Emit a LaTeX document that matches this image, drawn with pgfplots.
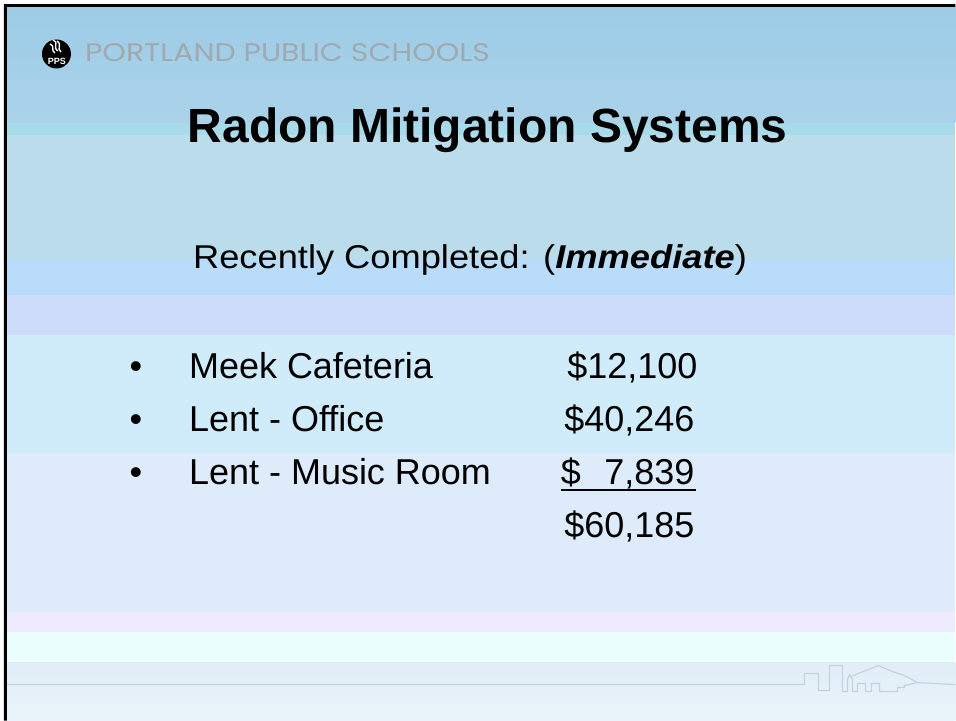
\documentclass[border=0pt]{standalone}
\usepackage{pgfplots}
\pgfplotsset{compat=1.18}
\usepackage{fontspec}
\setmainfont{Liberation Sans}
\newfontfamily\hdrfont{Poppins}
\definecolor{gTop}{HTML}{9DCBE6}
\definecolor{gBot}{HTML}{AAD3E9}
\definecolor{bandA}{HTML}{A7DBEA}
\definecolor{bandB}{HTML}{BBDCEA}
\definecolor{bandC}{HTML}{B9DCFB}
\definecolor{bandD}{HTML}{CDDCFB}
\definecolor{bandE}{HTML}{D0ECFB}
\definecolor{bandF}{HTML}{DDEBFB}
\definecolor{bandG}{HTML}{EEEBFD}
\definecolor{bandH}{HTML}{EAFEFE}
\definecolor{bandI}{HTML}{E1EEF7}
\definecolor{bandJ}{HTML}{EAF4FA}
\definecolor{hdrgray}{HTML}{A0A9B0}
\definecolor{icongray}{HTML}{C3D3DD}
\begin{document}
\begin{tikzpicture}
\begin{axis}[scale only axis, width=956pt, height=721pt,
  xmin=0, xmax=956, ymin=0, ymax=721, y dir=reverse,
  axis lines=none, ticks=none, clip=false]
% background
\addplot[fill=white, draw=none] coordinates {(0,0)(956,0)(956,721)(0,721)} -- cycle;
\addplot[draw=none, top color=gTop, bottom color=gBot] coordinates {(7,7)(956,7)(956,123)(7,123)} -- cycle;
\addplot[fill=bandA, draw=none] coordinates {(7,123)(956,123)(956,135)(7,135)} -- cycle;
\addplot[fill=bandB, draw=none] coordinates {(7,135)(956,135)(956,260)(7,260)} -- cycle;
\addplot[fill=bandC, draw=none] coordinates {(7,260)(956,260)(956,295)(7,295)} -- cycle;
\addplot[fill=bandD, draw=none] coordinates {(7,295)(956,295)(956,335)(7,335)} -- cycle;
\addplot[fill=bandE, draw=none] coordinates {(7,335)(956,335)(956,453)(7,453)} -- cycle;
\addplot[fill=bandF, draw=none] coordinates {(7,453)(956,453)(956,612)(7,612)} -- cycle;
\addplot[fill=bandG, draw=none] coordinates {(7,612)(956,612)(956,632)(7,632)} -- cycle;
\addplot[fill=bandH, draw=none] coordinates {(7,632)(956,632)(956,663)(7,663)} -- cycle;
\addplot[draw=none, top color=bandI, bottom color=bandJ] coordinates {(7,663)(956,663)(956,721)(7,721)} -- cycle;
% frame
\addplot[fill=black, draw=none] coordinates {(4,4)(956,4)(956,7)(7,7)(7,721)(4,721)} -- cycle;
% footer line and skyline icon
\addplot[icongray, line width=1.2pt] coordinates {(7,685)(805,685)(805,674)(819,674)(819,691)(830,691)(830,666)(843,666)(843,692)(848,692)(848,680)(850,675)(853,680)(853,692)(858,692)(858,684)(866,684)(866,692)(872,692)(872,684)(880,684)(880,692)(898,692)(898,688)(905,688)(905,686)(918,683)(956,685)};
\addplot[icongray, line width=1.2pt] coordinates {(851,677)(879,666)(893,672)(905,676)(918,683)};
% logo
\fill[black] (axis cs:56.5,54) circle[radius=14.5pt];
\draw[white, line width=1.3pt] (axis cs:53,40) .. controls (axis cs:60,44) and (axis cs:52,47) .. (axis cs:58,51);
\draw[white, line width=1.3pt] (axis cs:57,41) .. controls (axis cs:63,45) and (axis cs:56,48) .. (axis cs:61,52);
\draw[white, line width=1.3pt] (axis cs:50,44) .. controls (axis cs:56,47) and (axis cs:50,50) .. (axis cs:55,53);
\node[white, font=\bfseries\fontsize{9}{9}\selectfont, anchor=base] at (axis cs:57,65) {PPS};
\node[hdrgray, anchor=base west, inner sep=0pt] at (axis cs:85,62) {\resizebox{405pt}{18pt}{\hdrfont PORTLAND PUBLIC SCHOOLS}};
% title
\node[anchor=base, inner sep=0pt, font=\bfseries\fontsize{48}{56}\selectfont] at (axis cs:488,143) {Radon Mitigation Systems};
\node[anchor=base west, inner sep=0pt] at (axis cs:193,269) {\scalebox{1.1}[1]{\fontsize{33}{40}\selectfont Recently Completed: (\textbf{\textit{Immediate}})}};
% items
\node[anchor=base, inner sep=0pt, font=\fontsize{36}{40}\selectfont] at (axis cs:136,379) {•};
\node[anchor=base, inner sep=0pt, font=\fontsize{36}{40}\selectfont] at (axis cs:136,432) {•};
\node[anchor=base, inner sep=0pt, font=\fontsize{36}{40}\selectfont] at (axis cs:136,485) {•};
\node[anchor=base west, inner sep=0pt, font=\fontsize{36}{40}\selectfont] at (axis cs:189,379) {Meek Cafeteria};
\node[anchor=base west, inner sep=0pt, font=\fontsize{36}{40}\selectfont] at (axis cs:189,432) {Lent - Office};
\node[anchor=base west, inner sep=0pt, font=\fontsize{36}{40}\selectfont] at (axis cs:189,485) {Lent - Music Room};
\node[anchor=base east, inner sep=0pt, font=\fontsize{36}{40}\selectfont] at (axis cs:698,379) {\$12,100};
\node[anchor=base east, inner sep=0pt, font=\fontsize{36}{40}\selectfont] at (axis cs:695,432) {\$40,246};
\node[anchor=base west, inner sep=0pt, font=\fontsize{36}{40}\selectfont] at (axis cs:561,485) {\$};
\node[anchor=base east, inner sep=0pt, font=\fontsize{36}{40}\selectfont] at (axis cs:695,485) {7,839};
\addplot[black, line width=2pt] coordinates {(561,490)(696,490)};
\node[anchor=base east, inner sep=0pt, font=\fontsize{36}{40}\selectfont] at (axis cs:695,538) {\$60,185};
\end{axis}
\end{tikzpicture}
\end{document}
